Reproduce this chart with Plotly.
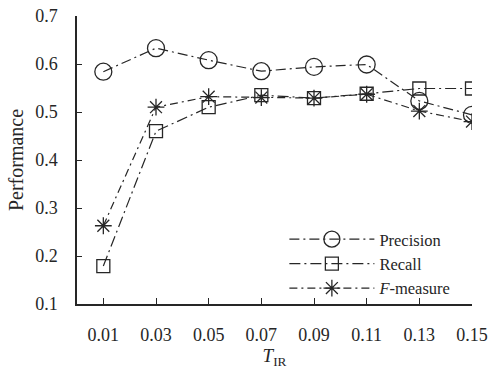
import plotly.graph_objects as go

thresholds = [0.01, 0.03, 0.05, 0.07, 0.09, 0.11, 0.13, 0.15]
tick_labels = ["0.01", "0.03", "0.05", "0.07", "0.09", "0.11", "0.13", "0.15"]
precision = [0.584, 0.633, 0.608, 0.585, 0.594, 0.599, 0.523, 0.494]
recall = [0.179, 0.460, 0.510, 0.535, 0.529, 0.538, 0.549, 0.549]
f_measure = [0.263, 0.510, 0.532, 0.530, 0.529, 0.537, 0.502, 0.480]
y_ticks = [0.1, 0.2, 0.3, 0.4, 0.5, 0.6, 0.7]

FONT = "Liberation Serif, Times New Roman, serif"
INK = "#262626"

fig = go.Figure()
series = [
    ("Precision", precision, "circle-open", 17, "10px,4px,2px,4px"),
    ("Recall", recall, "square-open", 13, "11px,4px,2px,4px"),
    ("<i>F</i>-measure", f_measure, "asterisk-open", 14, "8px,4px,2px,4px"),
]
for name, vals, sym, size, dash in series:
    fig.add_trace(go.Scatter(
        x=thresholds, y=vals, name=name, mode="lines+markers",
        line=dict(color=INK, width=1.2, dash=dash),
        marker=dict(symbol=sym, size=size, color=INK, line=dict(color=INK, width=1.3)),
    ))

fig.update_layout(
    width=489, height=369,
    margin=dict(l=77, r=17, t=16, b=65),
    paper_bgcolor="white", plot_bgcolor="white",
    font=dict(family=FONT, size=17, color=INK),
    showlegend=True,
    legend=dict(
        x=0.525, y=0.285, xanchor="left", yanchor="top",
        bgcolor="rgba(0,0,0,0)", borderwidth=0,
        font=dict(family=FONT, size=16.5, color=INK),
        itemwidth=85, tracegroupgap=0,
    ),
    xaxis=dict(
        range=[0, 0.15], tickvals=thresholds, ticktext=tick_labels,
        showgrid=False, zeroline=False, showline=True, linecolor=INK, linewidth=1.5,
        ticks="inside", ticklen=6, tickwidth=1.3, tickcolor=INK,
        tickfont=dict(family=FONT, size=18, color=INK),
        ticklabelstandoff=14, automargin=False,
        title=dict(text="<i>T</i><sub>IR</sub>", font=dict(family=FONT, size=19, color=INK), standoff=14),
    ),
    yaxis=dict(
        range=[0.1, 0.7], tickvals=y_ticks, ticktext=[f"{v:.1f}" for v in y_ticks],
        showgrid=False, zeroline=False, showline=True, linecolor=INK, linewidth=1.5,
        ticks="inside", ticklen=5, tickwidth=1.3, tickcolor=INK,
        tickfont=dict(family=FONT, size=18, color=INK),
        ticklabelstandoff=14, automargin=False,
        title=dict(text="Performance", font=dict(family=FONT, size=20, color=INK), standoff=6),
    ),
)

fig.write_html("out.html")
